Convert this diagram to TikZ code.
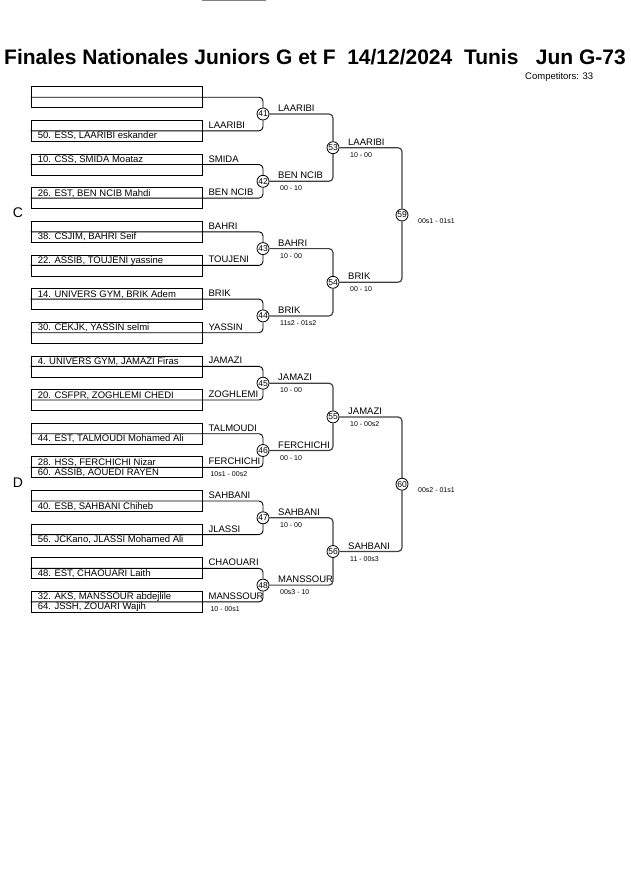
\documentclass[tikz,border=0pt]{standalone}
\usepackage{fontspec}
\setmainfont{Liberation Sans}
\usepackage{tikz}
\usepackage{xcolor}

\tikzset{
  entry/.style={draw, line width=0.8pt, minimum width=171pt, minimum height=21pt, inner sep=0pt},
  row/.style={anchor=base west, inner sep=0pt, font=\fontsize{9.5}{10}\selectfont},
  tag/.style={anchor=base west, inner sep=0pt, font=\fontsize{9.5}{10}\selectfont},
  res/.style={anchor=north west, inner sep=0pt, font=\fontsize{7}{8}\selectfont},
  bout/.style={circle, draw, line width=0.8pt, fill=white, minimum size=12pt, inner sep=0pt, font=\fontsize{8.5}{9}\selectfont},
  feed/.style={line width=0.9pt, rounded corners=4pt},
  win/.style={line width=1.2pt, draw=black!75, rounded corners=4pt},
}

\begin{document}
\begin{tikzpicture}[x=1pt, y=-1pt]
        \useasboundingbox (0,0) rectangle (630,891);
        \fill[gray] (202,0) rectangle (266,1.5);
        \node[anchor=base, inner sep=0pt, font=\fontsize{21}{24}\selectfont\bfseries] (title) at (315,65) {Finales Nationales Juniors G et F~ 14/12/2024~ Tunis~~ Jun G-73};
        \node[anchor=base west, inner sep=0pt, font=\fontsize{9.5}{10}\selectfont] (count) at (525,79) {Competitors: 33};
        \node[font=\fontsize{14}{16}\selectfont] (poolC) at (18,213) {C};
        \node[font=\fontsize{14}{16}\selectfont] (poolD) at (18,483) {D};

        % entries
        \node[entry] (e1) at (116.5,97.2) {};
        \node[entry] (e2) at (116.5,130.8) {};
        \node[entry] (e3) at (116.5,164.5) {};
        \node[entry] (e4) at (116.5,198.1) {};
        \node[entry] (e5) at (116.5,231.8) {};
        \node[entry] (e6) at (116.5,265.4) {};
        \node[entry] (e7) at (116.5,299.1) {};
        \node[entry] (e8) at (116.5,332.7) {};
        \node[entry] (e9) at (116.5,366.4) {};
        \node[entry] (e10) at (116.5,400.0) {};
        \node[entry] (e11) at (116.5,433.7) {};
        \node[entry] (e12) at (116.5,467.3) {};
        \node[entry] (e13) at (116.5,501.0) {};
        \node[entry] (e14) at (116.5,534.6) {};
        \node[entry] (e15) at (116.5,568.3) {};
        \node[entry] (e16) at (116.5,601.9) {};

        \node[row] (r2b) at ([xshift=7pt,yshift=-8pt]e2.west) {50. ESS, LAARIBI eskander};
        \node[row] (r3a) at ([xshift=7pt,yshift=2pt]e3.west) {10. CSS, SMIDA Moataz};
        \node[row] (r4a) at ([xshift=7pt,yshift=2pt]e4.west) {26. EST, BEN NCIB Mahdi};
        \node[row] (r5b) at ([xshift=7pt,yshift=-8pt]e5.west) {38. CSJIM, BAHRI Seif};
        \node[row] (r6a) at ([xshift=7pt,yshift=2pt]e6.west) {22. ASSIB, TOUJENI yassine};
        \node[row] (r7a) at ([xshift=7pt,yshift=2pt]e7.west) {14. UNIVERS GYM, BRIK Adem};
        \node[row] (r8a) at ([xshift=7pt,yshift=2pt]e8.west) {30. CEKJK, YASSIN selmi};
        \node[row] (r9a) at ([xshift=7pt,yshift=2pt]e9.west) {4. UNIVERS GYM, JAMAZI Firas};
        \node[row] (r10a) at ([xshift=7pt,yshift=2pt]e10.west) {20. CSFPR, ZOGHLEMI CHEDI};
        \node[row] (r11b) at ([xshift=7pt,yshift=-8pt]e11.west) {44. EST, TALMOUDI Mohamed Ali};
        \node[row] (r12a) at ([xshift=7pt,yshift=2pt]e12.west) {28. HSS, FERCHICHI Nizar};
        \node[row] (r12b) at ([xshift=7pt,yshift=-8pt]e12.west) {60. ASSIB, AOUEDI RAYEN};
        \node[row] (r13b) at ([xshift=7pt,yshift=-8pt]e13.west) {40. ESB, SAHBANI Chiheb};
        \node[row] (r14b) at ([xshift=7pt,yshift=-8pt]e14.west) {56. JCKano, JLASSI Mohamed Ali};
        \node[row] (r15b) at ([xshift=7pt,yshift=-8pt]e15.west) {48. EST, CHAOUARI Laith};
        \node[row] (r16a) at ([xshift=7pt,yshift=2pt]e16.west) {32. AKS, MANSSOUR abdejlile};
        \node[row] (r16b) at ([xshift=7pt,yshift=-8pt]e16.west) {64. JSSH, ZOUARI Wajih};

        \node[tag] (l2) at ([xshift=6pt,yshift=2.5pt]e2.east) {LAARIBI};
        \node[tag] (l3) at ([xshift=6pt,yshift=2.5pt]e3.east) {SMIDA};
        \node[tag] (l4) at ([xshift=6pt,yshift=2.5pt]e4.east) {BEN NCIB};
        \node[tag] (l5) at ([xshift=6pt,yshift=2.5pt]e5.east) {BAHRI};
        \node[tag] (l6) at ([xshift=6pt,yshift=2.5pt]e6.east) {TOUJENI};
        \node[tag] (l7) at ([xshift=6pt,yshift=2.5pt]e7.east) {BRIK};
        \node[tag] (l8) at ([xshift=6pt,yshift=2.5pt]e8.east) {YASSIN};
        \node[tag] (l9) at ([xshift=6pt,yshift=2.5pt]e9.east) {JAMAZI};
        \node[tag] (l10) at ([xshift=6pt,yshift=2.5pt]e10.east) {ZOGHLEMI};
        \node[tag] (l11) at ([xshift=6pt,yshift=2.5pt]e11.east) {TALMOUDI};
        \node[tag] (l12) at ([xshift=6pt,yshift=2.5pt]e12.east) {FERCHICHI};
        \node[res] (s12) at ([xshift=8pt,yshift=-4.5pt]e12.east) {10s1 - 00s2};
        \node[tag] (l13) at ([xshift=6pt,yshift=2.5pt]e13.east) {SAHBANI};
        \node[tag] (l14) at ([xshift=6pt,yshift=2.5pt]e14.east) {JLASSI};
        \node[tag] (l15) at ([xshift=6pt,yshift=2.5pt]e15.east) {CHAOUARI};
        \node[tag] (l16) at ([xshift=6pt,yshift=2.5pt]e16.east) {MANSSOUR};
        \node[res] (s16) at ([xshift=8pt,yshift=-4.5pt]e16.east) {10 - 00s1};

        % bouts
        \node[bout] (m41) at (263,114.0) {41};
        \node[bout] (m42) at (263,181.3) {42};
        \node[bout] (m43) at (263,248.6) {43};
        \node[bout] (m44) at (263,315.9) {44};
        \node[bout] (m45) at (263,383.2) {45};
        \node[bout] (m46) at (263,450.5) {46};
        \node[bout] (m47) at (263,517.8) {47};
        \node[bout] (m48) at (263,585.1) {48};
        \node[bout] (m53) at (333,147.7) {53};
        \node[bout] (m54) at (333,282.3) {54};
        \node[bout] (m55) at (333,416.9) {55};
        \node[bout] (m56) at (333,551.5) {56};
        \node[bout] (m59) at (402,215.0) {59};
        \node[bout] (m60) at (402,484.2) {60};

        \draw[feed] (e1.west) -| (m41);  \draw[feed] (e2.west) -| (m41);
        \draw[feed] (e3.west) -| (m42);  \draw[feed] (e4.west) -| (m42);
        \draw[feed] (e5.west) -| (m43);  \draw[feed] (e6.west) -| (m43);
        \draw[feed] (e7.west) -| (m44);  \draw[feed] (e8.west) -| (m44);
        \draw[feed] (e9.west) -| (m45);  \draw[feed] (e10.west) -| (m45);
        \draw[feed] (e11.west) -| (m46); \draw[feed] (e12.west) -| (m46);
        \draw[feed] (e13.west) -| (m47); \draw[feed] (e14.west) -| (m47);
        \draw[feed] (e15.west) -| (m48); \draw[feed] (e16.west) -| (m48);

        \draw[win] (m41) -| (m53); \draw[win] (m42) -| (m53);
        \draw[win] (m43) -| (m54); \draw[win] (m44) -| (m54);
        \draw[win] (m45) -| (m55); \draw[win] (m46) -| (m55);
        \draw[win] (m47) -| (m56); \draw[win] (m48) -| (m56);
        \draw[win] (m53) -| (m59); \draw[win] (m54) -| (m59);
        \draw[win] (m55) -| (m60); \draw[win] (m56) -| (m60);

        % winners and scores
        \node[tag] (w41) at ([xshift=15pt,yshift=2.5pt]m41.center) {LAARIBI};
        \node[tag] (w42) at ([xshift=15pt,yshift=2.5pt]m42.center) {BEN NCIB};
        \node[res] (p42) at ([xshift=17pt,yshift=-4.5pt]m42.center) {00 - 10};
        \node[tag] (w43) at ([xshift=15pt,yshift=2.5pt]m43.center) {BAHRI};
        \node[res] (p43) at ([xshift=17pt,yshift=-4.5pt]m43.center) {10 - 00};
        \node[tag] (w44) at ([xshift=15pt,yshift=2.5pt]m44.center) {BRIK};
        \node[res] (p44) at ([xshift=17pt,yshift=-4.5pt]m44.center) {11s2 - 01s2};
        \node[tag] (w45) at ([xshift=15pt,yshift=2.5pt]m45.center) {JAMAZI};
        \node[res] (p45) at ([xshift=17pt,yshift=-4.5pt]m45.center) {10 - 00};
        \node[tag] (w46) at ([xshift=15pt,yshift=2.5pt]m46.center) {FERCHICHI};
        \node[res] (p46) at ([xshift=17pt,yshift=-4.5pt]m46.center) {00 - 10};
        \node[tag] (w47) at ([xshift=15pt,yshift=2.5pt]m47.center) {SAHBANI};
        \node[res] (p47) at ([xshift=17pt,yshift=-4.5pt]m47.center) {10 - 00};
        \node[tag] (w48) at ([xshift=15pt,yshift=2.5pt]m48.center) {MANSSOUR};
        \node[res] (p48) at ([xshift=17pt,yshift=-4.5pt]m48.center) {00s3 - 10};
        \node[tag] (w53) at ([xshift=15pt,yshift=2.5pt]m53.center) {LAARIBI};
        \node[res] (p53) at ([xshift=17pt,yshift=-4.5pt]m53.center) {10 - 00};
        \node[tag] (w54) at ([xshift=15pt,yshift=2.5pt]m54.center) {BRIK};
        \node[res] (p54) at ([xshift=17pt,yshift=-4.5pt]m54.center) {00 - 10};
        \node[tag] (w55) at ([xshift=15pt,yshift=2.5pt]m55.center) {JAMAZI};
        \node[res] (p55) at ([xshift=17pt,yshift=-4.5pt]m55.center) {10 - 00s2};
        \node[tag] (w56) at ([xshift=15pt,yshift=2.5pt]m56.center) {SAHBANI};
        \node[res] (p56) at ([xshift=17pt,yshift=-4.5pt]m56.center) {11 - 00s3};
        \node[anchor=west, inner sep=0pt, font=\fontsize{7}{8}\selectfont] (p59) at ([xshift=16pt,yshift=-6pt]m59.center) {00s1 - 01s1};
        \node[anchor=west, inner sep=0pt, font=\fontsize{7}{8}\selectfont] (p60) at ([xshift=16pt,yshift=-6pt]m60.center) {00s2 - 01s1};
\end{tikzpicture}
\end{document}
